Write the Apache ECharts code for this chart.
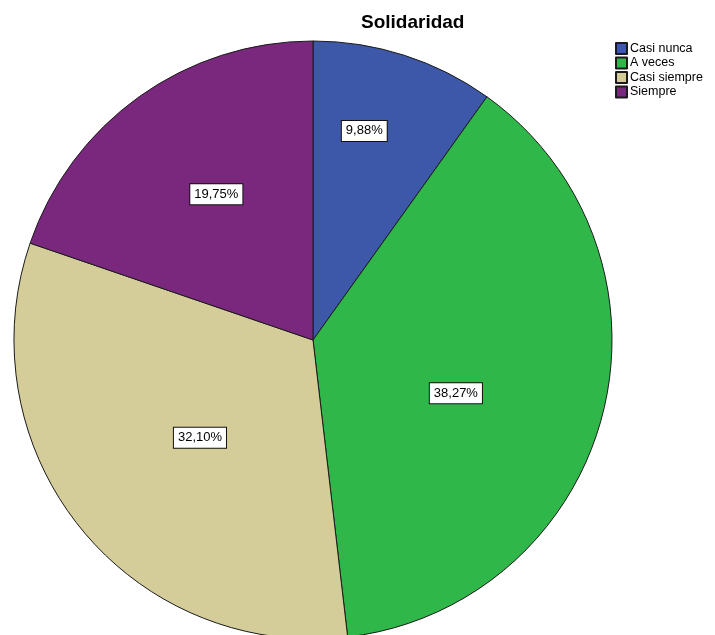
<!DOCTYPE html>
<html>
<head>
<meta charset="utf-8">
<style>
  html, body { margin: 0; padding: 0; background: #ffffff; }
  #chart { width: 715px; height: 635px; }
</style>
<script src="https://cdn.jsdelivr.net/npm/echarts@6/dist/echarts.min.js"></script>
</head>
<body>
<div id="chart"></div>
<script>
// Response categories and their share of answers (%)
const categories = ['Casi nunca', 'A veces', 'Casi siempre', 'Siempre'];
const percentages = [9.88, 38.27, 32.10, 19.75];
const chartTitle = 'Solidaridad';

// Slice colours
const sliceColors = ['#3d57a9', '#30b74a', '#d4cd99', '#7a287d'];

// Pie geometry (pixels)
const pieCenter = [313, 340];
const pieRadius = 299;

// Label placement: fraction of the radius and small angle nudge (degrees) per slice
const labelReach = [0.72, 0.51, 0.50, 0.585];
const labelTurn = [-4, 6, -2, 2];

const total = percentages.reduce((a, b) => a + b, 0);
const midAngles = [];
let acc = 0;
percentages.forEach(v => {
  midAngles.push((acc + v / 2) / total * 360);
  acc += v;
});

const fmt = v => v.toFixed(2).replace('.', ',') + '%';

const chart = echarts.init(document.getElementById('chart'), null, { renderer: 'canvas' });

chart.setOption({
  backgroundColor: '#ffffff',
  animation: false,
  title: {
    text: chartTitle,
    left: 361,
    top: 13,
    padding: 0,
    textStyle: {
      fontFamily: 'Liberation Sans, Arial, sans-serif',
      fontSize: 19,
      fontWeight: 'bold',
      color: '#000000'
    }
  },
  legend: {
    orient: 'vertical',
    left: 615,
    top: 42,
    padding: 0,
    itemWidth: 11,
    itemHeight: 11,
    itemGap: 1.5,
    icon: 'rect',
    data: categories,
    textStyle: {
      fontFamily: 'Liberation Sans, Arial, sans-serif',
      fontSize: 12.5,
      color: '#000000',
      padding: [0, 0, 0, -2]
    }
  },
  series: [{
    type: 'pie',
    center: pieCenter,
    radius: pieRadius,
    startAngle: 90,
    clockwise: true,
    silent: true,
    itemStyle: {
      borderColor: '#1b1b1b',
      borderWidth: 1
    },
    label: {
      show: true,
      position: 'inside',
      formatter: p => fmt(p.value),
      fontFamily: 'Liberation Sans, Arial, sans-serif',
      fontSize: 13,
      color: '#000000',
      backgroundColor: '#ffffff',
      borderColor: '#111111',
      borderWidth: 1,
      padding: [4, 4, 3, 4]
    },
    labelLine: { show: false },
    labelLayout: function (params) {
      const i = params.dataIndex;
      const a = (midAngles[i] + labelTurn[i]) * Math.PI / 180;
      const d = pieRadius * labelReach[i];
      return {
        x: pieCenter[0] + d * Math.sin(a),
        y: pieCenter[1] - d * Math.cos(a),
        align: 'center',
        verticalAlign: 'middle'
      };
    },
    data: categories.map((name, i) => ({
      name: name,
      value: percentages[i],
      itemStyle: { color: sliceColors[i] }
    }))
  }]
});
</script>
</body>
</html>
